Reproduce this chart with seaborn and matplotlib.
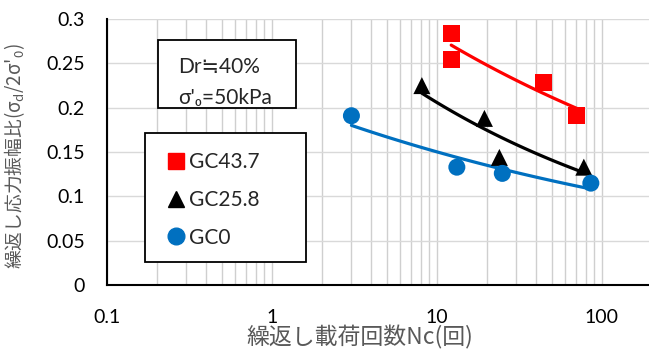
import numpy as np
import pandas as pd
import matplotlib
matplotlib.use("Agg")
import matplotlib.pyplot as plt
from matplotlib.patches import Rectangle
import seaborn as sns

# values
gc437_n = [12.2, 12.2, 44.3, 70.4]
gc437_r = [0.284, 0.254, 0.229, 0.191]
gc258_n = [8.1, 19.4, 23.9, 77.7]
gc258_r = [0.225, 0.188, 0.144, 0.133]
gc0_n = [3.03, 13.2, 24.9, 85.7]
gc0_r = [0.191, 0.133, 0.126, 0.115]

series = ["GC43.7", "GC25.8", "GC0"]
colors = {"GC43.7": "#ff0000", "GC25.8": "#000000", "GC0": "#0070c0"}
markers = {"GC43.7": "s", "GC25.8": "^", "GC0": "o"}

df = pd.concat([
    pd.DataFrame({"Nc": gc437_n, "ratio": gc437_r, "series": "GC43.7"}),
    pd.DataFrame({"Nc": gc258_n, "ratio": gc258_r, "series": "GC25.8"}),
    pd.DataFrame({"Nc": gc0_n, "ratio": gc0_r, "series": "GC0"}),
])

sns.set_style("white")
plt.rcParams["font.family"] = ["Lato", "Noto Sans CJK JP", "DejaVu Sans"]
plt.rcParams["mathtext.fontset"] = "custom"
plt.rcParams["mathtext.rm"] = "Noto Sans CJK JP"
plt.rcParams["mathtext.it"] = "Noto Sans CJK JP"
cjk = ["Noto Sans CJK JP", "DejaVu Sans"]

fig = plt.figure(figsize=(6.49, 3.6), dpi=100)
ax = fig.add_axes([0.165, 0.208, 0.835, 0.739])
ax.set_xscale("log")

# power-law trend lines (Excel style), fitted in log-log space
for s in series:
    d = df[df["series"] == s]
    b, a = np.polyfit(np.log(d["Nc"]), np.log(d["ratio"]), 1)
    xs = np.geomspace(d["Nc"].min(), d["Nc"].max(), 50)
    ax.plot(xs, np.exp(a) * xs ** b, color=colors[s], lw=2.3, zorder=2)

sns.scatterplot(data=df, x="Nc", y="ratio", hue="series", style="series",
                palette=colors, markers=markers, s=150, edgecolor="none",
                ax=ax, zorder=3, legend=False)

ax.set_xlim(0.1, 193)
ax.set_ylim(0, 0.3)
ax.set_yticks(np.arange(0, 0.31, 0.05))
ax.set_yticklabels(["0", "0.05", "0.1", "0.15", "0.2", "0.25", "0.3"])
ax.set_xticks([0.1, 1, 10, 100])
ax.set_xticklabels(["0.1", "1", "10", "100"])
ax.xaxis.set_minor_locator(matplotlib.ticker.LogLocator(base=10, subs=np.arange(2, 10), numticks=20))
ax.xaxis.set_minor_formatter(matplotlib.ticker.NullFormatter())
ax.grid(True, which="both", axis="x", color="#cfcfcf", lw=1)
ax.grid(True, which="major", axis="y", color="#d9d9d9", lw=1)
ax.set_axisbelow(True)
ax.tick_params(axis="both", which="major", direction="in", length=5, width=1.5,
               labelsize=14, colors="black")
ax.tick_params(axis="x", which="major", pad=17)
ax.tick_params(axis="y", which="major", pad=16)
ax.tick_params(axis="x", which="minor", length=0)
for side in ["top", "right"]:
    ax.spines[side].set_visible(False)
for side in ["left", "bottom"]:
    ax.spines[side].set_color("black")
    ax.spines[side].set_linewidth(1.5)

ax.set_xlabel("繰返し載荷回数Nc(回)", fontsize=16.5, color="#595959", family=cjk)
ax.set_ylabel("繰返し応力振幅比(σ$_\\mathregular{d}$/2σ'$_\\mathregular{0}$)",
              fontsize=13.5, color="#595959", family=cjk)
ax.xaxis.set_label_coords(0.467, -0.15)
ax.yaxis.set_label_coords(-0.148, 0.485)

# condition box
ax.add_patch(Rectangle((0.094, 0.665), 0.255, 0.256, transform=ax.transAxes,
                       fc="white", ec="black", lw=1.3, zorder=4))
ax.text(0.131, 0.818, "Dr≒40%", transform=ax.transAxes,
        fontsize=15, ha="left", va="center", zorder=5)
ax.text(0.131, 0.705, "σ'₀=50kPa", transform=ax.transAxes,
        fontsize=15, ha="left", va="center", zorder=5)

# legend box
ax.add_patch(Rectangle((0.070, 0.086), 0.297, 0.485, transform=ax.transAxes,
                       fc="white", ec="black", lw=1.3, zorder=4))
handles = [plt.Line2D([], [], ls="none", marker=markers[s], color=colors[s], markersize=12)
           for s in series]
leg = ax.legend(handles, series, loc="center left", bbox_to_anchor=(0.104, 0.32),
                frameon=False, fontsize=15, handletextpad=0.05,
                labelspacing=0.85, borderpad=0, handlelength=1.2, borderaxespad=0)
leg.set_zorder(6)

fig.savefig("out.png", dpi=100)
